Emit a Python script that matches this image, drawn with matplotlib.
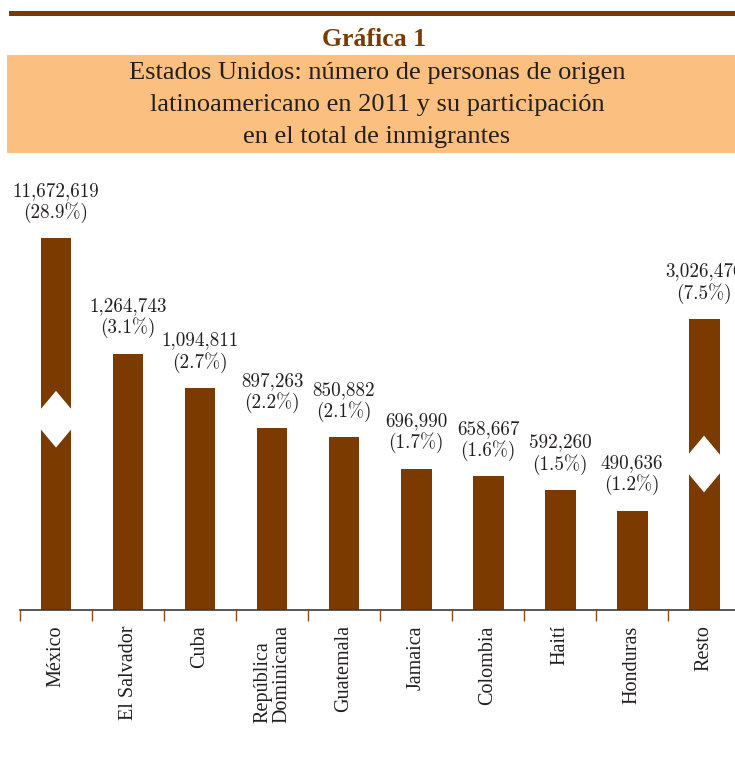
"""Estados Unidos: personas de origen latinoamericano en 2011 (Gráfica 1)."""

import matplotlib
matplotlib.use("Agg")
import matplotlib.pyplot as plt
from matplotlib.patches import Polygon, Rectangle

countries = ["México", "El Salvador", "Cuba", "República\nDominicana", "Guatemala",
             "Jamaica", "Colombia", "Haití", "Honduras", "Resto"]
persons = [11672619, 1264743, 1094811, 897263, 850882, 696990, 658667, 592260, 490636, 3026476]
shares = [28.9, 3.1, 2.7, 2.2, 2.1, 1.7, 1.6, 1.5, 1.2, 7.5]

# the two tall bars are drawn cut: height shown on the page and where the cut sits
broken_shown = {"México": 1834000, "Resto": 1435000}
broken_at = {"México": 941000, "Resto": 720000}

title_lines = ["Estados Unidos: número de personas de origen",
               "latinoamericano en 2011 y su participación",
               "en el total de inmigrantes"]

BROWN = "#7a3a00"
ORANGE = "#fbc07f"
TEXT = "#231f20"
SERIF = ["Liberation Serif", "DejaVu Serif"]
NUMS = ["cmr10", "DejaVu Serif"]

W, H = 735, 763
fig = plt.figure(figsize=(W / 100, H / 100), dpi=100)

# header: brown rule, chart number and orange title box
fig.add_artist(Rectangle((9 / W, 1 - 16 / H), 726 / W, 5 / H, transform=fig.transFigure,
                         color=BROWN, lw=0))
fig.add_artist(Rectangle((7 / W, 1 - 153 / H), 728 / W, 98 / H, transform=fig.transFigure,
                         color=ORANGE, lw=0))
fig.text(374 / W, 1 - 40 / H, "Gráfica 1", ha="center", va="center", color=BROWN,
         fontsize=18.5, fontweight="bold", family=SERIF)
for k, line in enumerate(title_lines):
    fig.text(377 / W, 1 - (73 + 32 * k) / H, line, ha="center", va="center", color=TEXT,
             fontsize=19, family=SERIF)

ax = fig.add_axes([20 / W, 153 / H, 715 / W, 440 / H])

shown = [broken_shown.get(c, v) for c, v in zip(countries, persons)]
x = list(range(len(countries)))
bar_w = 0.43
ax.bar(x, shown, width=bar_w, color=BROWN, zorder=2)

# white cut marks on the shortened bars
for c, y0 in broken_at.items():
    i = countries.index(c)
    hw = bar_w / 2 + 0.02
    tip, flat = 140000, 40000
    ax.add_patch(Polygon([(i, y0 + tip), (i + hw, y0 + flat), (i + hw, y0 - flat),
                          (i, y0 - tip), (i - hw, y0 - flat), (i - hw, y0 + flat)],
                         closed=True, color="white", lw=0, zorder=3))

for i, (v, s, h) in enumerate(zip(persons, shares, shown)):
    ax.annotate(f"{v:,}\n({s}%)", xy=(i, h), xytext=(0, 11), textcoords="offset points",
                ha="center", va="bottom", fontsize=13.8, family=NUMS, color=TEXT,
                linespacing=1.15, annotation_clip=False)

ax.set_xlim(-0.5, 9.43)
ax.set_ylim(0, 2170000)
ax.set_xticks(x)
ax.set_xticklabels(countries, rotation=90, ha="center", va="top", fontsize=14.5,
                   family=SERIF, color=TEXT)
for lbl in ax.get_xticklabels():
    lbl.set_linespacing(1.0)
    lbl.set_multialignment("left")
ax.set_xticks([i - 0.5 for i in range(len(countries))], minor=True)
ax.tick_params(axis="x", which="major", length=0, pad=11)
ax.tick_params(axis="x", which="minor", length=8, width=1, color="#8b4a1a", direction="out")
ax.set_yticks([])
for side in ["top", "right", "left"]:
    ax.spines[side].set_visible(False)
ax.spines["bottom"].set_color("#3a3a3a")
ax.spines["bottom"].set_linewidth(1.2)
ax.spines["bottom"].set_zorder(4)

fig.savefig("out.png", dpi=100)
